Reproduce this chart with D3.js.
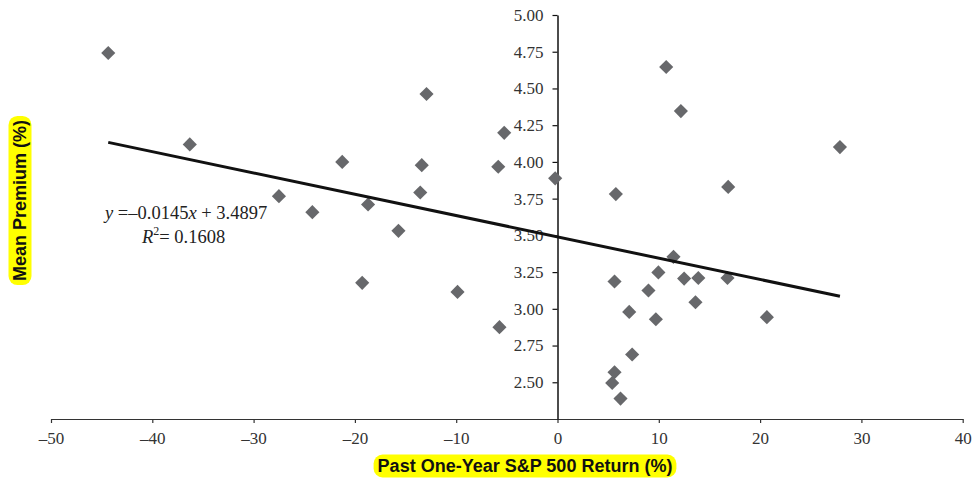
<!DOCTYPE html>
<html><head><meta charset="utf-8">
<script src="https://cdn.jsdelivr.net/npm/d3@7"></script>
<style>
html,body{margin:0;padding:0;background:#fff;}
svg{display:block;}
</style></head>
<body>
<svg id="chart" width="972" height="479"></svg>
<script>
const sp500Return = [-44.35,-36.3,-27.5,-24.2,-21.25,-18.7,-15.7,-13.55,-13.4,-12.93,-5.85,-5.26,-0.23,5.76,10.73,12.18,27.88,16.85,-19.28,-9.87,-5.73,5.63,8.98,7.08,9.71,7.37,5.63,5.40,6.22,9.96,11.45,12.5,13.9,16.78,13.62,20.67];
const meanPremium = [4.741,4.119,3.767,3.658,4.00,3.710,3.531,3.792,3.978,4.462,3.967,4.198,3.888,3.781,4.646,4.346,4.101,3.830,3.177,3.115,2.875,3.186,3.125,2.979,2.929,2.689,2.568,2.495,2.389,3.248,3.354,3.206,3.210,3.210,3.045,2.943];
const xTicks = [-50,-40,-30,-20,-10,0,10,20,30,40];
const yTicks = [2.50,2.75,3.00,3.25,3.50,3.75,4.00,4.25,4.50,4.75,5.00];
const slope = -0.0145, intercept = 3.4897, r2 = 0.1608;

const svg = d3.select("#chart");
const x = d3.scaleLinear().domain([-50,40]).range([51,962.7]);
const y = d3.scaleLinear().domain([2.25,5.00]).range([419,15]);
const serif = "'Liberation Serif','Times New Roman',serif";
const sans = "'Liberation Sans',Arial,sans-serif";
const fmtX = d => d < 0 ? "\u2013" + Math.abs(d) : String(d);

// x axis
const gx = svg.append("g").attr("transform", `translate(0,${y(2.25)})`)
  .call(d3.axisBottom(x).tickValues(xTicks).tickFormat(fmtX).tickSize(4).tickPadding(9).tickSizeOuter(0));
gx.select(".domain").attr("stroke","#333").attr("stroke-width",1.2);
gx.selectAll(".tick line").attr("stroke","#333").attr("stroke-width",1.2);
gx.selectAll("text").attr("font-family",serif).attr("font-size",17).attr("fill","#333");

// y axis
const gy = svg.append("g").attr("transform", `translate(${x(0)},0)`)
  .call(d3.axisLeft(y).tickValues(yTicks).tickFormat(d3.format(".2f")).tickSize(5).tickPadding(9).tickSizeOuter(0));
gy.select(".domain").attr("stroke","#111").attr("stroke-width",1.5);
gy.selectAll(".tick line").attr("stroke","#111").attr("stroke-width",1.2);
gy.selectAll("text").attr("font-family",serif).attr("font-size",17).attr("fill","#333");

// points
const sym = d3.symbol().type(d3.symbolSquare).size(100);
svg.append("g").selectAll("path").data(sp500Return.map((v,i)=>[v,meanPremium[i]]))
  .join("path")
  .attr("d", sym)
  .attr("transform", d => `translate(${x(d[0])},${y(d[1])}) rotate(45)`)
  .attr("fill","#67686b");

// trend line
const xmin = d3.min(sp500Return), xmax = d3.max(sp500Return);
svg.append("line")
  .attr("x1", x(xmin)).attr("y1", y(slope*xmin+intercept))
  .attr("x2", x(xmax)).attr("y2", y(slope*xmax+intercept))
  .attr("stroke","#111").attr("stroke-width",3);

// equation
const eq = svg.append("text").attr("x",105).attr("y",219).attr("font-family",serif).attr("font-size",18.5).attr("fill","#222");
eq.append("tspan").attr("font-style","italic").text("y");
eq.append("tspan").text(" =\u2013" + Math.abs(slope).toFixed(4));
eq.append("tspan").attr("font-style","italic").text("x");
eq.append("tspan").text(" + " + intercept.toFixed(4));
const rt = svg.append("text").attr("x",142).attr("y",243).attr("font-family",serif).attr("font-size",18.5).attr("fill","#222");
rt.append("tspan").attr("font-style","italic").text("R");
rt.append("tspan").attr("font-size",12).attr("dy",-8).text("2");
rt.append("tspan").attr("dy",8).text("= " + r2.toFixed(4));

// axis titles with highlight
function hlLabel(txt, cx, cy, rot){
  const g = svg.append("g").attr("transform", `translate(${cx},${cy}) rotate(${rot})`);
  const t = g.append("text").attr("text-anchor","middle").attr("dy","0.36em")
    .attr("font-family",sans).attr("font-weight","bold").attr("font-size",18).attr("fill","#111").text(txt);
  const w = t.node().getComputedTextLength();
  g.insert("rect","text").attr("x",-w/2-4).attr("y",-11.5).attr("width",w+8).attr("height",23)
    .attr("rx",9).attr("fill","#ffff00");
}
hlLabel("Past One-Year S&P 500 Return (%)", 525, 466, 0);
hlLabel("Mean Premium (%)", 20, 200.5, -90);
</script>
</body></html>
